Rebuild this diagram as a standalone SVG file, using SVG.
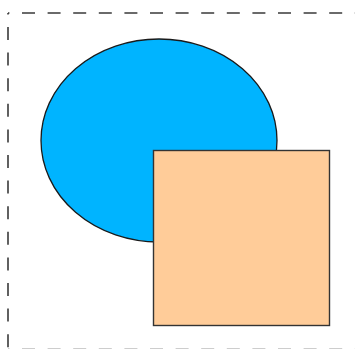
<svg xmlns="http://www.w3.org/2000/svg" width="355" height="349" viewBox="0 0 355 349">
<style>
.border{fill:none;stroke:#3a3a3a;stroke-width:1.6;stroke-dasharray:13 12.6;}
</style>
<rect width="355" height="349" fill="#ffffff"/>
<g id="frame">
<line class="border" x1="8" y1="13" x2="360" y2="13" stroke-dashoffset="11.6"/>
<line class="border" x1="8" y1="13" x2="8" y2="360" stroke-dashoffset="11.6"/>
<line class="border" x1="8" y1="349.6" x2="360" y2="349.6" stroke-dashoffset="11.6"/>
</g>
<g id="ellipse">
<ellipse cx="159" cy="140.5" rx="118" ry="101.5" fill="#00b4ff" stroke="#1a1a1a" stroke-width="1.3"/>
</g>
<g id="square">
<rect x="153.5" y="150.5" width="176" height="175" fill="#ffcc99" stroke="#333333" stroke-width="1.4"/>
</g>
</svg>
